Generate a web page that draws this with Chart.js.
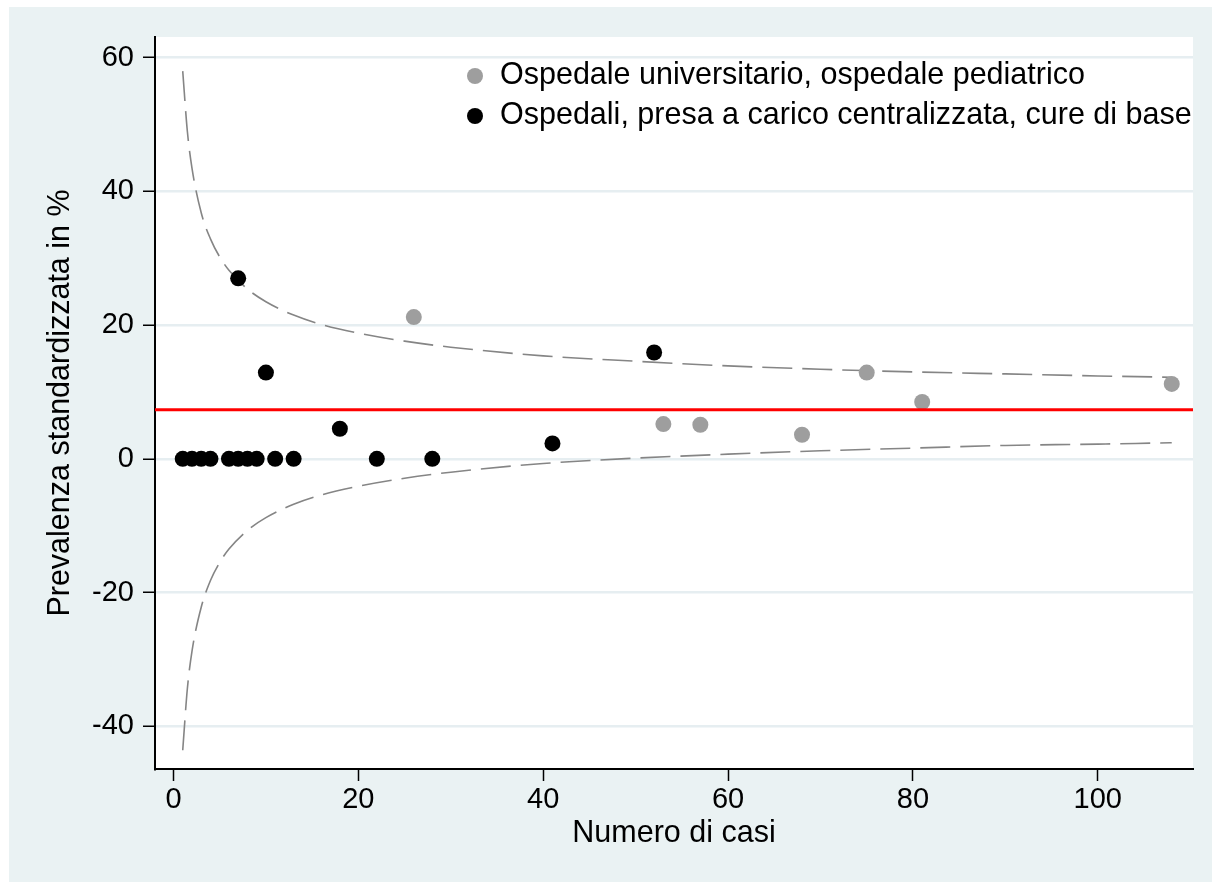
<!DOCTYPE html>
<html lang="it">
<head>
<meta charset="UTF-8">
<title>Prevalenza standardizzata</title>
<script src="https://cdn.jsdelivr.net/npm/chart.js"></script>
<style>
  html, body { margin: 0; padding: 0; background: #fff; }
  #wrap { position: absolute; left: 9px; top: 7px; width: 1203px; height: 875px; background: #EAF2F3; }
</style>
</head>
<body>
<div id="wrap"><canvas id="funnel"></canvas></div>
<script>
// axis ranges and ticks
const X_MIN = -2, X_MAX = 110.3;
const Y_MIN = -46.4, Y_MAX = 63.1;
const TICK_STEP = 20;

const legendLabels = [
  'Ospedale universitario, ospedale pediatrico',
  'Ospedali, presa a carico centralizzata, cure di base'
];

// Ospedale universitario / pediatrico (grigio)
const uniCases = [26, 53, 57, 68, 75, 81, 108];
const uniPrev  = [21.2, 5.2, 5.1, 3.6, 12.9, 8.5, 11.2];

// altri ospedali (nero)
const otherCases = [1, 2, 3, 4, 6, 7, 7, 8, 9, 10, 11, 13, 18, 22, 28, 41, 52];
const otherPrev  = [0, 0, 0, 0, 0, 0, 27.0, 0, 0, 12.9, 0, 0, 4.5, 0, 0, 2.3, 15.9];

// media complessiva (linea rossa)
const meanPrev = 7.33;

// limiti di controllo (tratteggio)
const limitCases = [1, 1.5, 2, 3, 4, 5, 6, 8, 10, 13, 16, 20, 25, 30, 40, 50, 60, 70, 80, 90, 100, 108];
const upperLimit = [58.0, 49.0, 43.5, 36.8, 32.9, 30.2, 28.2, 25.4, 23.5, 21.5, 20.1, 18.8, 17.6, 16.7, 15.4, 14.6, 13.9, 13.4, 13.0, 12.7, 12.4, 12.2];
const lowerLimit = [-43.6, -34.4, -28.8, -22.2, -18.2, -15.5, -13.5, -10.7, -8.8, -6.8, -5.4, -4.1, -2.9, -2.0, -0.7, 0.1, 0.7, 1.2, 1.6, 2.0, 2.2, 2.4];

const FONT = "'Liberation Sans', Arial, sans-serif";
const toPoints = (xs, ys) => xs.map((x, i) => ({x: x, y: ys[i]}));

const plotBg = {
  id: 'plotBg',
  beforeDraw(chart) {
    const {ctx, chartArea: a} = chart;
    ctx.save();
    ctx.fillStyle = '#fff';
    ctx.fillRect(a.left, a.top, a.right - a.left, a.bottom - a.top);
    ctx.restore();
  }
};

// legenda dentro l'area del grafico, in alto a destra
const innerLegend = {
  id: 'innerLegend',
  afterDraw(chart) {
    const {ctx, chartArea: a} = chart;
    const items = chart.data.datasets.filter(d => d.inLegend);
    ctx.save();
    ctx.font = '30.5px ' + FONT;
    ctx.textBaseline = 'middle';
    items.forEach((d, i) => {
      const y = a.top + 39 + i * 40;
      ctx.beginPath();
      ctx.arc(a.left + 320, y, 8, 0, Math.PI * 2);
      ctx.fillStyle = d.backgroundColor;
      ctx.fill();
      ctx.fillStyle = '#000';
      ctx.fillText(d.label, a.left + 345, y);
    });
    ctx.restore();
  }
};

const ctx = document.getElementById('funnel').getContext('2d');
new Chart(ctx, {
  type: 'scatter',
  data: {
    datasets: [
      {
        type: 'line',
        label: 'media',
        data: [{x: X_MIN, y: meanPrev}, {x: X_MAX, y: meanPrev}],
        borderColor: '#FF0000',
        borderWidth: 3,
        pointRadius: 0,
        fill: false
      },
      {
        label: legendLabels[0],
        inLegend: true,
        data: toPoints(uniCases, uniPrev),
        backgroundColor: '#9E9E9E',
        borderWidth: 0,
        pointRadius: 8
      },
      {
        label: legendLabels[1],
        inLegend: true,
        data: toPoints(otherCases, otherPrev),
        backgroundColor: '#000000',
        borderWidth: 0,
        pointRadius: 8
      },
      {
        type: 'line',
        label: 'limite superiore',
        data: toPoints(limitCases, upperLimit),
        borderColor: '#858585',
        borderWidth: 1.6,
        borderDash: [30, 10],
        cubicInterpolationMode: 'monotone',
        pointRadius: 0,
        fill: false
      },
      {
        type: 'line',
        label: 'limite inferiore',
        data: toPoints(limitCases, lowerLimit),
        borderColor: '#858585',
        borderWidth: 1.6,
        borderDash: [30, 10],
        cubicInterpolationMode: 'monotone',
        pointRadius: 0,
        fill: false
      }
    ]
  },
  options: {
    responsive: true,
    maintainAspectRatio: false,
    animation: false,
    events: [],
    layout: { padding: { top: 30, right: 19, left: 0, bottom: 0 } },
    plugins: {
      legend: { display: false },
      tooltip: { enabled: false }
    },
    scales: {
      x: {
        type: 'linear',
        min: X_MIN,
        max: X_MAX,
        afterFit: s => { s.height = 113; },
        border: { display: true, color: '#000', width: 2 },
        grid: { drawOnChartArea: false, tickLength: 12, tickColor: '#000', tickWidth: 1.5 },
        ticks: {
          stepSize: TICK_STEP,
          includeBounds: false,
          padding: 2,
          color: '#000',
          font: { family: FONT, size: 29 }
        },
        title: {
          display: true,
          text: 'Numero di casi',
          color: '#000',
          font: { family: FONT, size: 30.5 },
          padding: { top: 0, bottom: 30 }
        }
      },
      y: {
        type: 'linear',
        min: Y_MIN,
        max: Y_MAX,
        afterFit: s => { s.width = 146; },
        border: { display: true, color: '#000', width: 2 },
        grid: { color: '#E6EEF1', lineWidth: 2.5, tickLength: 12, tickColor: '#000', tickWidth: 1.5 },
        ticks: {
          stepSize: TICK_STEP,
          includeBounds: false,
          padding: 9,
          color: '#000',
          font: { family: FONT, size: 29 }
        },
        title: {
          display: true,
          text: 'Prevalenza standardizzata in %',
          color: '#000',
          font: { family: FONT, size: 30.5 },
          padding: { top: 33, bottom: 0 }
        }
      }
    }
  },
  plugins: [plotBg, innerLegend]
});
</script>
</body>
</html>
